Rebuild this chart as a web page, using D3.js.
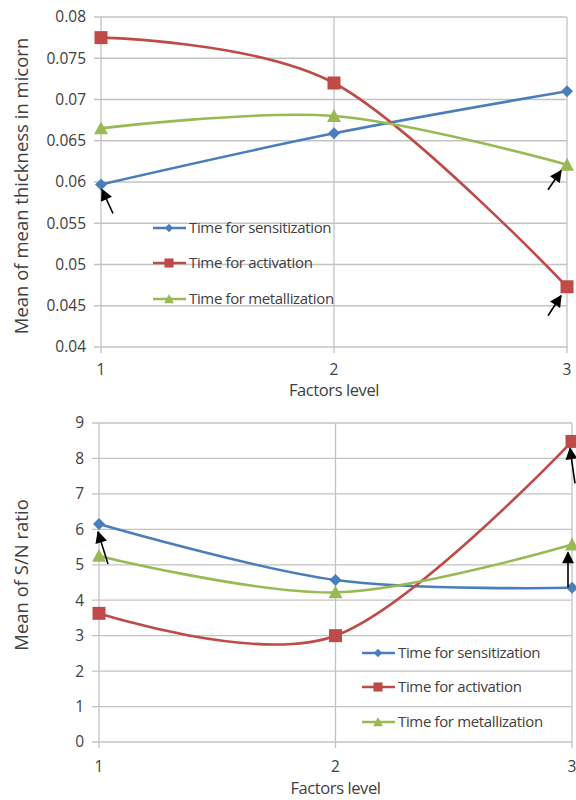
<!DOCTYPE html>
<html>
<head>
<meta charset="utf-8">
<script src="https://cdn.jsdelivr.net/npm/d3@7"></script>
<style>
body { margin: 0; background: #fff; }
text { font-family: "Open Sans", "DejaVu Sans", sans-serif; fill: #404040; }
</style>
</head>
<body>
<svg width="576" height="800"></svg>
<script>
// Factor levels on the x axis
var levels = [1, 2, 3];
var seriesNames = ['Time for sensitization', 'Time for activation', 'Time for metallization'];

// Top chart: mean of mean thickness (micron)
var thickSensitization = [0.0597, 0.0659, 0.0710];
var thickActivation = [0.0775, 0.0720, 0.0473];
var thickMetallization = [0.0665, 0.0680, 0.0621];
var thickTicks = [0.04, 0.045, 0.05, 0.055, 0.06, 0.065, 0.07, 0.075, 0.08];

// Bottom chart: mean of S/N ratio
var snSensitization = [6.15, 4.57, 4.35];
var snActivation = [3.63, 3.00, 8.48];
var snMetallization = [5.25, 4.22, 5.57];
var snTicks = [0, 1, 2, 3, 4, 5, 6, 7, 8, 9];

var colors = ['#4a7ebb', '#be4b48', '#98b954'];

var svg = d3.select('svg');

// arrowhead used by the annotation arrows
svg.append('defs').append('marker')
    .attr('id', 'arrowHead')
    .attr('viewBox', '0 0 10 10')
    .attr('refX', 9).attr('refY', 5)
    .attr('markerWidth', 14).attr('markerHeight', 12)
    .attr('markerUnits', 'userSpaceOnUse')
    .attr('orient', 'auto')
    .append('path')
    .attr('d', 'M0,0 L10,5 L0,10 Z')
    .style('fill', '#000');

// draw a marker symbol for series i at (x, y)
function drawMarker(g, i, x, y, big) {
    var s = big ? 1 : 0.7;
    var path;
    if (i === 0) {
        var r = 6 * s;
        path = 'M0,' + (-r) + 'L' + r + ',0L0,' + r + 'L' + (-r) + ',0Z';
    } else if (i === 1) {
        var h = 6.5 * s;
        path = 'M' + (-h) + ',' + (-h) + 'H' + h + 'V' + h + 'H' + (-h) + 'Z';
    } else {
        var t = 7 * s;
        path = 'M0,' + (-t) + 'L' + t + ',' + (t * 0.85) + 'L' + (-t) + ',' + (t * 0.85) + 'Z';
    }
    g.append('path')
        .attr('transform', 'translate(' + x + ',' + y + ')')
        .attr('d', path)
        .style('fill', colors[i]);
}

function drawChart(cfg) {
    var x = d3.scaleLinear().domain([1, 3]).range([cfg.left, cfg.right]);
    var y = d3.scaleLinear().domain(cfg.domain).range([cfg.bottom, cfg.top]);
    var g = svg.append('g');

    // horizontal gridlines
    g.selectAll('.hgrid').data(cfg.ticks).enter().append('line')
        .attr('x1', cfg.left - 7).attr('x2', cfg.right)
        .attr('y1', d => y(d)).attr('y2', d => y(d))
        .style('stroke', '#c3c3c3').style('stroke-width', 1.3);

    // vertical gridlines / axis
    g.selectAll('.vgrid').data(levels).enter().append('line')
        .attr('x1', d => x(d)).attr('x2', d => x(d))
        .attr('y1', cfg.top).attr('y2', cfg.bottom + 6)
        .style('stroke', '#c3c3c3').style('stroke-width', 1.3);

    // y tick labels
    g.selectAll('.ylab').data(cfg.ticks).enter().append('text')
        .attr('x', cfg.left - 15)
        .attr('y', d => y(d))
        .attr('dy', '0.35em')
        .attr('text-anchor', 'end')
        .style('font-size', '15.5px')
        .text(cfg.format);

    // x tick labels
    g.selectAll('.xlab').data(levels).enter().append('text')
        .attr('x', d => x(d))
        .attr('y', cfg.bottom + cfg.xLabOff)
        .attr('text-anchor', 'middle')
        .style('font-size', '15.5px')
        .text(d => d);

    g.append('text')
        .attr('x', x(2))
        .attr('y', cfg.bottom + cfg.xTitleOff)
        .attr('text-anchor', 'middle')
        .style('font-size', '16.5px')
        .style('letter-spacing', '-0.4px')
        .text('Factors level');

    g.append('text')
        .attr('transform', 'translate(' + 28 + ',' + cfg.titleY + ') rotate(-90)')
        .attr('text-anchor', 'middle')
        .style('font-size', '18.5px')
        .text(cfg.title);

    var line = d3.line()
        .x((d, j) => x(levels[j]))
        .y(d => y(d))
        .curve(d3.curveCardinal.tension(0));

    cfg.series.forEach(function(vals, i) {
        g.append('path')
            .attr('d', line(vals))
            .style('fill', 'none')
            .style('stroke', colors[i])
            .style('stroke-width', 2.6);
    });
    cfg.series.forEach(function(vals, i) {
        vals.forEach(function(v, j) {
            drawMarker(g, i, x(levels[j]), y(v), true);
        });
    });

    // legend
    seriesNames.forEach(function(name, i) {
        var ly = cfg.legendY[i];
        g.append('line')
            .attr('x1', cfg.legendX).attr('x2', cfg.legendX + 33)
            .attr('y1', ly).attr('y2', ly)
            .style('stroke', colors[i]).style('stroke-width', 2.6);
        drawMarker(g, i, cfg.legendX + 16, ly, false);
        g.append('text')
            .attr('x', cfg.legendX + 36)
            .attr('y', ly)
            .attr('dy', '0.35em')
            .style('font-size', '15px')
            .style('letter-spacing', '-0.35px')
            .text(name);
    });

    // annotation arrows anchored to data points
    cfg.arrows.forEach(function(a) {
        var px = x(levels[a.level]);
        var py = y(cfg.series[a.series][a.level]);
        g.append('line')
            .attr('x1', px + a.tail[0]).attr('y1', py + a.tail[1])
            .attr('x2', px + a.tip[0]).attr('y2', py + a.tip[1])
            .attr('marker-end', 'url(#arrowHead)')
            .style('stroke', '#000').style('stroke-width', 1.6);
    });
}

drawChart({
    left: 101, right: 567, top: 17, bottom: 347,
    domain: [0.04, 0.08],
    ticks: thickTicks,
    format: d => String(+d.toFixed(3)),
    title: 'Mean of mean thickness in micorn',
    titleY: 186,
    xLabOff: 28, xTitleOff: 49,
    series: [thickSensitization, thickActivation, thickMetallization],
    legendX: 153,
    legendY: [228, 263, 299],
    arrows: [
        {series: 0, level: 0, tip: [1, 5], tail: [12, 29]},
        {series: 2, level: 2, tip: [-6, 6], tail: [-19, 25]},
        {series: 1, level: 2, tip: [-6, 9], tail: [-19, 29]}
    ]
});

drawChart({
    left: 99, right: 572, top: 423, bottom: 742,
    domain: [0, 9],
    ticks: snTicks,
    format: d => d,
    title: 'Mean of S/N ratio',
    titleY: 575,
    xLabOff: 30, xTitleOff: 52,
    series: [snSensitization, snActivation, snMetallization],
    legendX: 362,
    legendY: [653, 687, 722],
    arrows: [
        {series: 0, level: 0, tip: [-1, 8], tail: [9, 40]},
        {series: 1, level: 2, tip: [-2, 7], tail: [3, 42]},
        {series: 2, level: 2, tip: [-4, 8], tail: [-4, 43]}
    ]
});
</script>
</body>
</html>
